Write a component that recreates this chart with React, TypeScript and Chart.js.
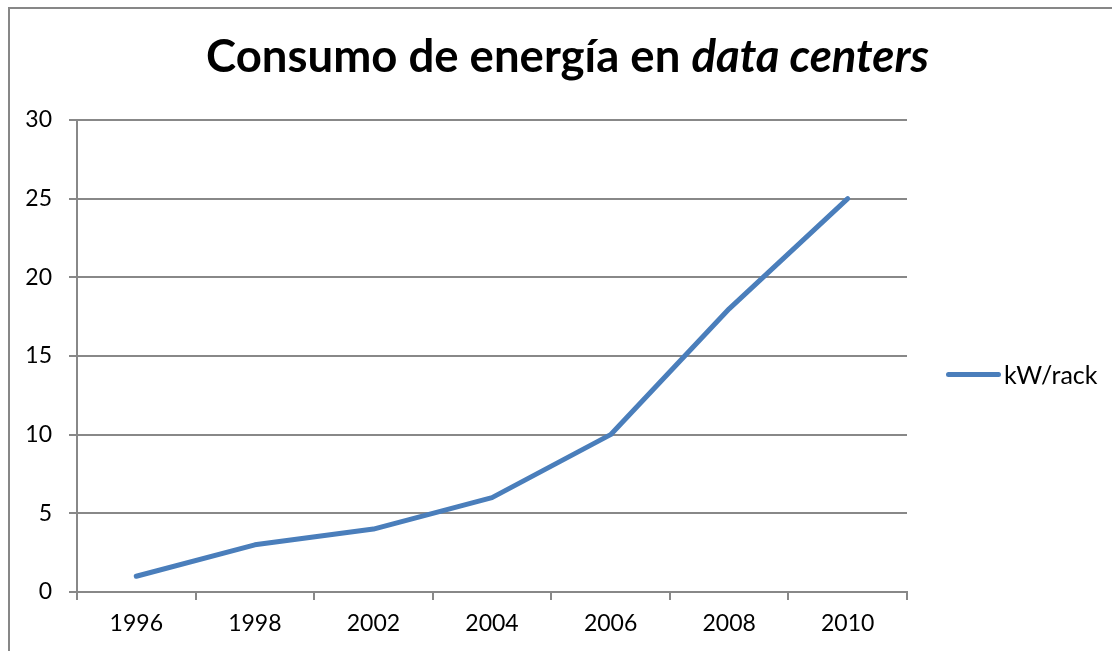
import React, { useEffect, useRef } from "react";
import { Chart, registerables } from "chart.js";

Chart.register(...registerables);

const years = ["1996", "1998", "2002", "2004", "2006", "2008", "2010"];
const kwPerRack = [1, 3, 4, 6, 10, 18, 25];
const seriesLabel = "kW/rack";
const titleMain = "Consumo de energía en ";
const titleItalic = "data centers";
const yMin = 0;
const yMax = 30;
const yStep = 5;

const LINE_COLOR = "#4A7EBB";
const GRID_COLOR = "#888888";
const FONT = "Lato, 'Open Sans', sans-serif";

export default function App() {
  const canvasRef = useRef<HTMLCanvasElement | null>(null);

  useEffect(() => {
    const canvas = canvasRef.current;
    if (!canvas) return;
    const chart = new Chart(canvas, {
      type: "line",
      data: {
        labels: years,
        datasets: [
          {
            label: seriesLabel,
            data: kwPerRack,
            borderColor: LINE_COLOR,
            backgroundColor: LINE_COLOR,
            borderWidth: 5,
            borderCapStyle: "round",
            borderJoinStyle: "round",
            pointRadius: 0,
            pointHoverRadius: 0,
            tension: 0,
          },
        ],
      },
      options: {
        responsive: false,
        animation: false,
        layout: { padding: { top: 120, right: 205, left: 0, bottom: 0 } },
        plugins: {
          legend: { display: false },
          title: { display: false },
          tooltip: { enabled: false },
        },
        scales: {
          x: {
            type: "category",
            offset: true,
            grid: {
              offset: true,
              drawOnChartArea: false,
              drawTicks: true,
              tickLength: 8,
              color: GRID_COLOR,
              lineWidth: 2,
            },
            border: { display: true, color: GRID_COLOR, width: 2 },
            ticks: {
              color: "#000",
              padding: 10,
              maxRotation: 0,
              autoSkip: false,
              font: { family: FONT, size: 23 },
            },
            afterFit: (scale: any) => {
              scale.height = 59;
            },
          },
          y: {
            min: yMin,
            max: yMax,
            grid: {
              color: GRID_COLOR,
              lineWidth: 2,
              drawTicks: true,
              tickLength: 8,
            },
            border: { display: true, color: GRID_COLOR, width: 2 },
            ticks: {
              stepSize: yStep,
              color: "#000",
              padding: 17,
              font: { family: FONT, size: 23 },
            },
            afterFit: (scale: any) => {
              scale.width = 77;
            },
          },
        },
      },
    });
    return () => chart.destroy();
  }, []);

  return (
    <div
      style={{
        position: "fixed",
        left: 0,
        top: 0,
        width: 1112,
        height: 651,
        overflow: "hidden",
        background: "#fff",
        fontFamily: FONT,
      }}
    >
      <div
        style={{
          position: "absolute",
          left: 8,
          top: 7,
          width: 1200,
          height: 800,
          borderLeft: "2px solid #878787",
          borderTop: "2px solid #878787",
          boxSizing: "border-box",
        }}
      />
      <canvas
        ref={canvasRef}
        width={1112}
        height={651}
        style={{ position: "absolute", left: 0, top: 0, width: 1112, height: 651 }}
      />
      <div
        style={{
          position: "absolute",
          left: 0,
          width: 1135,
          top: 30,
          textAlign: "center",
          fontSize: 45.5,
          fontWeight: 700,
          color: "#000",
          lineHeight: "50px",
          whiteSpace: "nowrap",
        }}
      >
        {titleMain}
        <i>{titleItalic}</i>
      </div>
      <div
        style={{
          position: "absolute",
          left: 946,
          top: 359,
          display: "flex",
          alignItems: "center",
          height: 30,
          fontSize: 25,
          color: "#000",
          whiteSpace: "nowrap",
        }}
      >
        <span
          style={{
            display: "inline-block",
            width: 55,
            height: 5,
            borderRadius: 3,
            background: LINE_COLOR,
            marginRight: 3,
          }}
        />
        <span>{seriesLabel}</span>
      </div>
    </div>
  );
}
